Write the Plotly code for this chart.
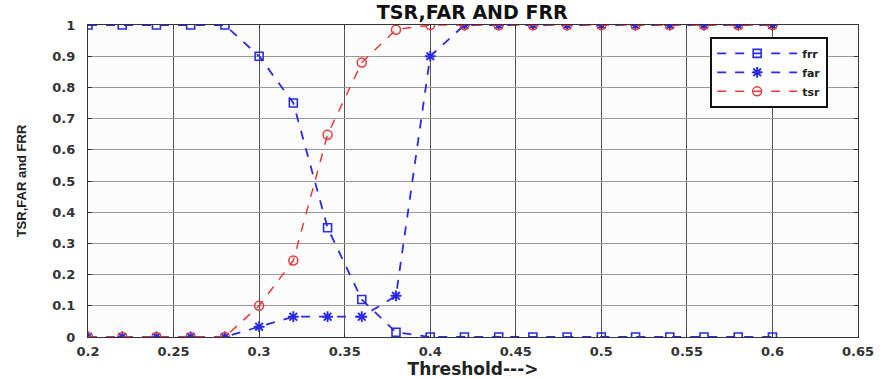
import plotly.graph_objects as go

threshold = [0.2, 0.22, 0.24, 0.26, 0.28, 0.3, 0.32, 0.34, 0.36, 0.38, 0.4,
             0.42, 0.44, 0.46, 0.48, 0.5, 0.52, 0.54, 0.56, 0.58, 0.6]
frr = [1, 1, 1, 1, 1, 0.9, 0.75, 0.35, 0.12, 0.015, 0,
       0, 0, 0, 0, 0, 0, 0, 0, 0, 0]
far = [0, 0, 0, 0, 0, 0.033, 0.065, 0.065, 0.065, 0.132, 0.9,
       1, 1, 1, 1, 1, 1, 1, 1, 1, 1]
tsr = [0, 0, 0, 0, 0, 0.1, 0.245, 0.648, 0.88, 0.985, 1,
       1, 1, 1, 1, 1, 1, 1, 1, 1, 1]

x_ticks = [0.2, 0.25, 0.3, 0.35, 0.4, 0.45, 0.5, 0.55, 0.6, 0.65]
x_tick_labels = ["0.2", "0.25", "0.3", "0.35", "0.4", "0.45", "0.5", "0.55", "0.6", "0.65"]
y_ticks = [0, 0.1, 0.2, 0.3, 0.4, 0.5, 0.6, 0.7, 0.8, 0.9, 1]
y_tick_labels = ["0", "0.1", "0.2", "0.3", "0.4", "0.5", "0.6", "0.7", "0.8", "0.9", "1"]

BLUE = "#2a2ae6"
RED = "#e63a3a"
FONT = "DejaVu Sans, Arial, sans-serif"

fig = go.Figure()
fig.add_trace(go.Scatter(x=threshold, y=frr, name="frr", mode="lines+markers",
                         line=dict(color=BLUE, width=1.8, dash="dash"),
                         marker=dict(symbol="square-open", size=8, color=BLUE, line=dict(width=1.6))))
fig.add_trace(go.Scatter(x=threshold, y=far, name="far", mode="lines+markers",
                         line=dict(color=BLUE, width=1.8, dash="dash"),
                         marker=dict(symbol="asterisk-open", size=9, color=BLUE, line=dict(width=1.9, color=BLUE))))
fig.add_trace(go.Scatter(x=threshold, y=tsr, name="tsr", mode="lines+markers",
                         line=dict(color=RED, width=1.5, dash="dash"),
                         marker=dict(symbol="circle-open", size=9, color=RED, line=dict(width=1.5))))

fig.update_layout(
    width=880, height=379,
    margin=dict(l=88, r=22, t=25, b=42, autoexpand=False),
    paper_bgcolor="white", plot_bgcolor="#fcfcfc",
    font=dict(family=FONT, size=12, color="#333"),
    title=dict(text="<b>TSR,FAR AND FRR</b>", x=0.499, xanchor="center", xref="paper",
               y=0.968, yanchor="middle", yref="container",
               font=dict(size=19, color="#111")),
    showlegend=True,
    legend=dict(x=0.808, y=0.962, xanchor="left", yanchor="top",
                bgcolor="white", bordercolor="#111", borderwidth=2,
                font=dict(size=11, color="#222", weight="bold"), tracegroupgap=0,
                itemwidth=80),
    xaxis=dict(range=[0.2, 0.65], tickvals=x_ticks, ticktext=x_tick_labels,
               tickfont=dict(size=13, weight="bold", color="#333"),
               showgrid=True, gridcolor="#555", gridwidth=1,
               showline=True, linecolor="#333", linewidth=1.3, mirror="ticks",
               ticks="inside", ticklen=4, tickcolor="#333", zeroline=False,
               automargin=False, ticklabelstandoff=2,
               title=dict(text="Threshold--->", font=dict(size=17, weight="bold", color="#222"))),
    yaxis=dict(range=[0, 1], tickvals=y_ticks, ticktext=y_tick_labels,
               tickfont=dict(size=13, weight="bold", color="#333"),
               showgrid=True, gridcolor="#9a9a9a", gridwidth=1,
               showline=True, linecolor="#333", linewidth=1.3, mirror="ticks",
               ticks="inside", ticklen=4, tickcolor="#333", zeroline=False,
               automargin=False, ticklabelstandoff=9,
               title=dict(text="TSR,FAR and FRR", standoff=22,
                          font=dict(family="Liberation Sans, Arial, sans-serif", size=13,
                                    weight="bold", color="#222"))),
)

# remove the browser's default 8px body margin so the figure sits at the page origin
fig.write_html("out.html", config={"displayModeBar": False},
               post_script="document.body.style.margin='0';")
